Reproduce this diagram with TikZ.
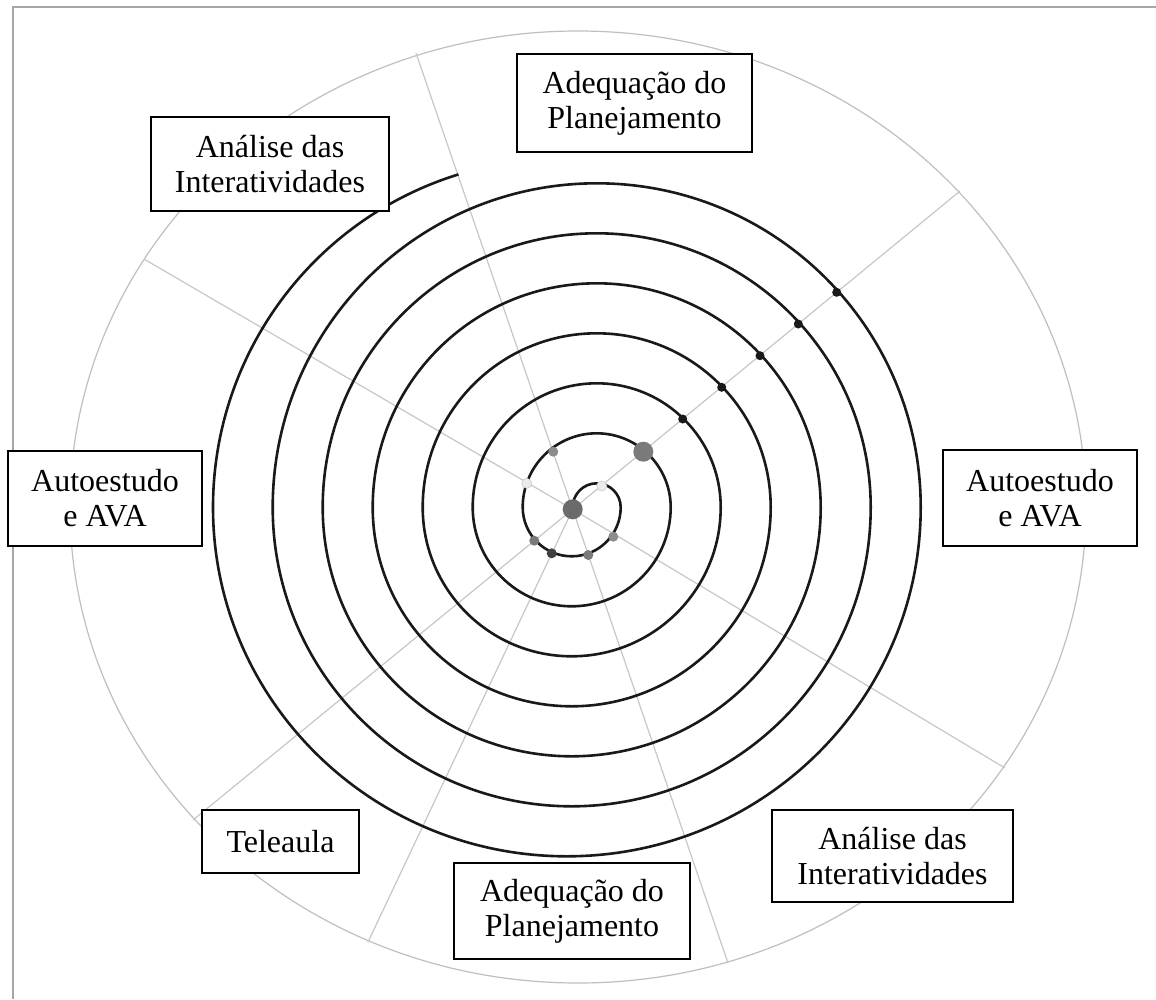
\documentclass[tikz,border=0pt]{standalone}
\usepackage{fontspec}
\setmainfont{Liberation Serif}

\tikzset{
  etapa/.style={draw, line width=2pt, fill=white, align=center, inner sep=0pt,
    font=\fontsize{32}{35}\selectfont},
  raio/.style={draw=black!22, line width=1.2pt},
  espiral/.style={draw=black!90, line width=2.6pt},
  ponto/.style={circle, inner sep=0pt, minimum size=9pt, fill=black!90},
  pontoclaro/.style={circle, inner sep=0pt, minimum size=10pt, fill=black!8, draw=black!20, line width=.6pt},
}

\begin{document}
\begin{tikzpicture}[x=1pt,y=1pt]
        \useasboundingbox (0,0) rectangle (1156,-999);
        \fill[white] (0,0) rectangle (1156,-999);
        \draw[black!35, line width=1.2pt] (13,-999) -- (13,-7) -- (1156,-7);
        \draw[black!25, line width=1.2pt] (578,-507) ellipse [x radius=508, y radius=476];
        % raios
        \coordinate (ctr) at (572.7,-509.3);
        \coordinate (e1) at (416,-53);
        \coordinate (e2) at (960,-191);
        \coordinate (e3) at (1005,-768);
        \coordinate (e4) at (728,-963);
        \coordinate (e5) at (368,-942);
        \coordinate (e6) at (193,-820);
        \coordinate (e7) at (144,-259);
        \foreach \e in {e1,e2,e3,e4,e5,e6,e7}
          \draw[raio] (ctr) -- (\e);
        % espiral
        \draw[espiral] (ctr) ++(0,2)
          \foreach \k [evaluate=\k as \ru using 24+50*\k,
                       evaluate=\k as \rl using 49+50*\k] in {0,...,5} {
            arc[start angle=180, end angle=0, radius=\ru]
            arc[start angle=0, end angle=-180, radius=\rl]
          }
          arc[start angle=180, end angle=0, radius=324]
          arc[start angle=0, end angle=-180, x radius=353.85, y radius=349]
          arc[start angle=180, end angle=107.2, radius=348.5];
        % pontos
        \node[ponto] (p1) at (682.7,-419) {};
        \node[ponto] (p2) at (721.7,-387.3) {};
        \node[ponto] (p3) at (760,-355.7) {};
        \node[ponto] (p4) at (798.3,-324) {};
        \node[ponto] (p5) at (836.7,-292.3) {};
        \node[ponto, minimum size=20pt, fill=black!52] (g1) at (643.3,-451.7) {};
        \node[pontoclaro] (c1) at (601.7,-486) {};
        \node[pontoclaro] (c2) at (526.7,-483.3) {};
        \node[ponto, minimum size=10pt, fill=black!45] (i1) at (613.3,-536.7) {};
        \node[ponto, minimum size=10pt, fill=black!52] (i2) at (588.3,-555) {};
        \node[ponto, minimum size=10pt, fill=black!75] (i3) at (551.7,-553.3) {};
        \node[ponto, minimum size=10pt, fill=black!52] (i4) at (534.3,-540.7) {};
        \node[ponto, minimum size=10pt, fill=black!45] (i5) at (553.3,-451.7) {};
        \node[ponto, minimum size=20pt, fill=black!58] (centro) at (ctr) {};
        % etapas
        \node[etapa, minimum width=235, minimum height=98] (adeqA) at (634.5,-103) {Adequação do\\Planejamento};
        \node[etapa, minimum width=238, minimum height=94] (analA) at (270,-164) {Análise das\\Interatividades};
        \node[etapa, minimum width=194, minimum height=95] (autoA) at (105,-498.5) {Autoestudo\\e AVA};
        \node[etapa, minimum width=194, minimum height=96] (autoB) at (1040,-498) {Autoestudo\\e AVA};
        \node[etapa, minimum width=157, minimum height=63] (tele) at (280.5,-841.5) {Teleaula};
        \node[etapa, minimum width=236, minimum height=96] (adeqB) at (572,-911) {Adequação do\\Planejamento};
        \node[etapa, minimum width=241, minimum height=92] (analB) at (892.5,-856) {Análise das\\Interatividades};
\end{tikzpicture}
\end{document}
